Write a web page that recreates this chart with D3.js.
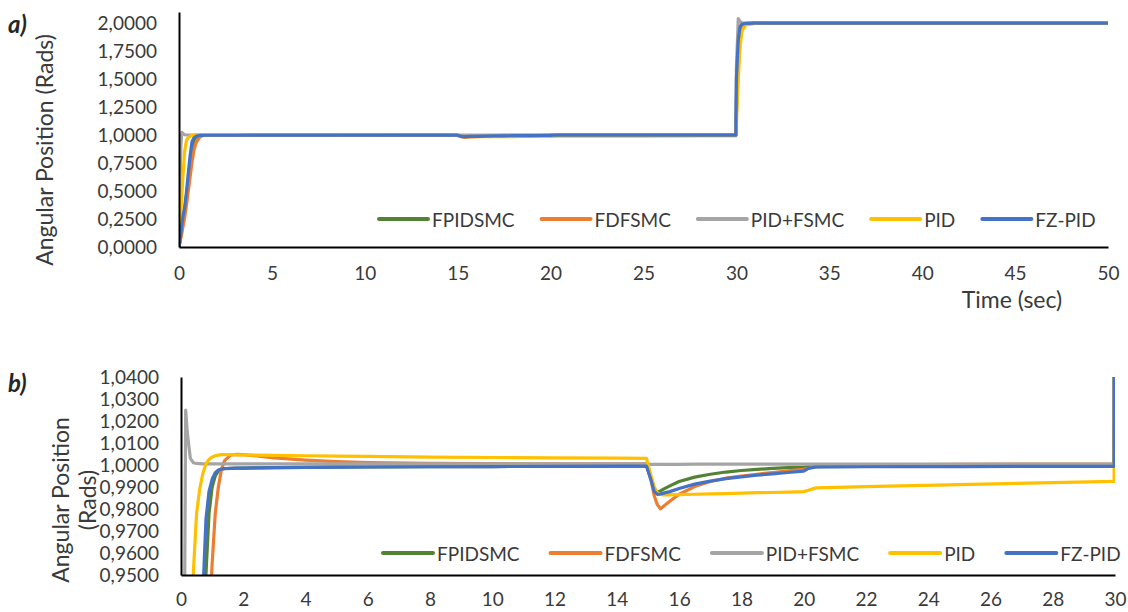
<!DOCTYPE html>
<html>
<head>
<meta charset="utf-8">
<script src="https://cdn.jsdelivr.net/npm/d3@7"></script>
<style>
  body { margin: 0; background: #fff; }
  svg { display: block; font-family: Lato, "Open Sans", sans-serif; }
</style>
</head>
<body>
<div id="my_dataviz"></div>
<script>
// time samples (sec), shared by every series
const time = [0, 0.1, 0.15, 0.2, 0.3, 0.4, 0.5, 0.6, 0.7, 0.8, 0.9, 1.0, 1.1, 1.2, 1.3, 1.4, 1.6, 1.8, 2,
  2.5, 3, 4, 5, 6, 8, 10, 12, 14, 14.95, 15.1, 15.2, 15.3, 15.4, 15.5, 15.7, 16, 16.5, 17, 17.5, 18,
  18.5, 19, 19.5, 20, 20.15, 20.4, 22, 25, 28, 29.97, 30, 30.1, 30.2, 30.3, 30.5, 31, 32, 35, 40, 45, 50];

const seriesNames = ["FPIDSMC", "FDFSMC", "PID+FSMC", "PID", "FZ-PID"];
const seriesColors = ["#548235", "#ED7D31", "#A5A5A5", "#FFC000", "#4472C4"];

const fpidsmc = [0, 0.1, 0.16, 0.23, 0.32, 0.45, 0.6, 0.76, 0.88, 0.95, 0.978, 0.99, 0.995, 0.9972, 0.998, 0.9983, 0.9985, 0.9986, 0.9986,
  0.9987, 0.9988, 0.9989, 0.999, 0.9991, 0.9992, 0.9993, 0.9994, 0.9995, 0.9996, 0.994, 0.989, 0.9876, 0.9882, 0.989, 0.9905, 0.9925, 0.9945, 0.9958, 0.9968, 0.9975,
  0.998, 0.9985, 0.9988, 0.999, 0.9992, 0.9993, 0.9994, 0.9995, 0.9995, 0.9995, 1.3, 1.75, 1.94, 1.985, 1.997, 2.0, 2.0, 2.0, 2.0, 2.0, 2.0];

const fdfsmc = [0, 0.08, 0.12, 0.17, 0.26, 0.37, 0.5, 0.63, 0.76, 0.86, 0.925, 0.955, 0.978, 0.99, 0.998, 1.002, 1.0046, 1.0048, 1.0047,
  1.004, 1.0032, 1.0022, 1.0015, 1.0011, 1.0008, 1.0006, 1.0005, 1.0005, 1.0005, 0.993, 0.986, 0.982, 0.9801, 0.9812, 0.9835, 0.9867, 0.9902, 0.9925, 0.994, 0.995,
  0.9958, 0.9966, 0.9973, 0.998, 0.9985, 0.9993, 0.9999, 1.0003, 1.0004, 1.0004, 1.2, 1.6, 1.85, 1.95, 1.99, 2.0, 2.0, 2.0, 2.0, 2.0, 2.0];

const pidFsmc = [0, 0.9, 1.025, 1.015, 1.003, 1.0010, 1.0007, 1.0006, 1.0005, 1.0005, 1.0005, 1.0005, 1.0005, 1.0005, 1.0005, 1.0005, 1.0005, 1.0005, 1.0005,
  1.0005, 1.0005, 1.0005, 1.0005, 1.0005, 1.0005, 1.0005, 1.0005, 1.0005, 1.0005, 1.0003, 1.0003, 1.0003, 1.0003, 1.0003, 1.0003, 1.0003, 1.0004, 1.0004, 1.0004, 1.0004,
  1.0004, 1.0004, 1.0004, 1.0004, 1.0004, 1.0004, 1.0004, 1.0004, 1.0004, 1.0004, 1.6, 2.042, 2.015, 2.003, 2.001, 2.0, 2.0, 2.0, 2.0, 2.0, 2.0];

const pid = [0, 0.3, 0.45, 0.6, 0.85, 0.952, 0.978, 0.989, 0.996, 1.0005, 1.0025, 1.0036, 1.0042, 1.0045, 1.0047, 1.0047, 1.0047, 1.0046, 1.0046,
  1.0045, 1.0044, 1.0042, 1.004, 1.0039, 1.0036, 1.0034, 1.0032, 1.0031, 1.003, 0.995, 0.99, 0.9875, 0.9866, 0.9864, 0.9864, 0.9865, 0.9867, 0.9869, 0.987, 0.9872,
  0.9874, 0.9875, 0.9877, 0.9879, 0.9885, 0.9896, 0.9902, 0.9911, 0.992, 0.9926, 1.1, 1.5, 1.8, 1.93, 1.985, 1.998, 2.0, 2.0, 2.0, 2.0, 2.0];

const fzPid = [0, 0.12, 0.2, 0.26, 0.35, 0.49, 0.66, 0.82, 0.94, 0.975, 0.988, 0.9935, 0.9965, 0.9977, 0.9982, 0.9984, 0.9985, 0.9986, 0.9986,
  0.9987, 0.9988, 0.9989, 0.999, 0.9991, 0.9992, 0.9993, 0.9994, 0.9995, 0.9995, 0.993, 0.988, 0.9866, 0.9868, 0.9872, 0.9879, 0.9893, 0.9913, 0.9927, 0.9938, 0.9946,
  0.9954, 0.996, 0.9966, 0.9972, 0.9985, 0.9991, 0.9992, 0.9993, 0.9994, 0.9994, 1.5, 1.85, 1.97, 1.99, 1.998, 2.0, 2.0, 2.0, 2.0, 2.0, 2.0];

const seriesValues = [fpidsmc, fdfsmc, pidFsmc, pid, fzPid];

// axis ticks
const topXTicks = [0, 5, 10, 15, 20, 25, 30, 35, 40, 45, 50];
const topYTicks = [0, 0.25, 0.5, 0.75, 1.0, 1.25, 1.5, 1.75, 2.0];
const botXTicks = [0, 2, 4, 6, 8, 10, 12, 14, 16, 18, 20, 22, 24, 26, 28, 30];
const botYTicks = [0.95, 0.96, 0.97, 0.98, 0.99, 1.0, 1.01, 1.02, 1.03, 1.04];

const W = 1128, H = 612;
const textColor = "#3a3a3a";

const svg = d3.select("#my_dataviz")
  .append("svg")
  .attr("width", W)
  .attr("height", H);

const commaFmt = v => d3.format(".4f")(v).replace(".", ",");

// draws one panel
function panel(opts) {
  const x = d3.scaleLinear().domain(opts.xDomain).range([opts.left, opts.right]);
  const y = d3.scaleLinear().domain(opts.yDomain).range([opts.bottom, opts.top]);

  svg.append("clipPath").attr("id", opts.id)
    .append("rect")
    .attr("x", opts.left).attr("y", opts.top)
    .attr("width", opts.right - opts.left)
    .attr("height", opts.bottom - opts.top);

  const line = d3.line()
    .x(d => x(d[0]))
    .y(d => y(d[1]));

  const g = svg.append("g").attr("clip-path", "url(#" + opts.id + ")");
  seriesValues.forEach(function(vals, i) {
    const pts = time.map((t, k) => [t, vals[k]]);
    g.append("path")
      .attr("d", line(pts))
      .style("fill", "none")
      .style("stroke", seriesColors[i])
      .style("stroke-width", 3.2)
      .style("stroke-linejoin", "round");
  });

  // axes (Excel style: no tick marks)
  const yAxis = svg.append("g")
    .attr("transform", "translate(" + opts.left + ",0)")
    .call(d3.axisLeft(y).tickValues(opts.yTicks).tickSize(0).tickPadding(22).tickFormat(commaFmt));
  yAxis.select(".domain").attr("stroke", "#000").attr("stroke-width", 2);
  yAxis.selectAll("text").attr("fill", textColor).style("font-size", "19px")
    .style("font-family", "Lato, sans-serif");

  const xAxis = svg.append("g")
    .attr("transform", "translate(0," + opts.bottom + ")")
    .call(d3.axisBottom(x).tickValues(opts.xTicks).tickSize(0).tickPadding(opts.xPad));
  xAxis.select(".domain").attr("stroke", "#000").attr("stroke-width", 2);
  xAxis.selectAll("text").attr("fill", textColor).style("font-size", "19px")
    .style("font-family", "Lato, sans-serif");

  // legend, laid out left to right from measured text widths
  const legend = svg.append("g").attr("transform", "translate(0," + opts.legendY + ")");
  let lx = opts.legendX;
  seriesNames.forEach(function(name, i) {
    legend.append("line")
      .attr("x1", lx).attr("x2", lx + opts.swatch)
      .attr("y1", 0).attr("y2", 0)
      .style("stroke", seriesColors[i])
      .style("stroke-width", 4)
      .style("stroke-linecap", "round");
    const txt = legend.append("text")
      .attr("x", lx + opts.swatch + 4)
      .attr("y", 0)
      .attr("dominant-baseline", "central")
      .attr("fill", textColor)
      .style("font-size", "19px")
      .text(name);
    lx += opts.swatch + 4 + txt.node().getComputedTextLength() + opts.legendGap;
  });
}

panel({
  id: "clipTop",
  xDomain: [0, 50], yDomain: [0, 2.1],
  left: 179, right: 1108, top: 12, bottom: 247,
  xTicks: topXTicks, yTicks: topYTicks, xPad: 20,
  legendX: 379, legendY: 219, swatch: 49, legendGap: 27
});

panel({
  id: "clipBot",
  xDomain: [0, 30], yDomain: [0.95, 1.04],
  left: 181, right: 1115, top: 377, bottom: 575,
  xTicks: botXTicks, yTicks: botYTicks, xPad: 18,
  legendX: 383, legendY: 553, swatch: 50, legendGap: 31
});

// titles
svg.append("text")
  .attr("transform", "translate(53,150) rotate(-90)")
  .attr("text-anchor", "middle")
  .attr("fill", textColor)
  .style("font-size", "23px")
  .text("Angular Position (Rads)");

const botTitle = svg.append("text")
  .attr("transform", "translate(69,500) rotate(-90)")
  .attr("text-anchor", "middle")
  .attr("fill", textColor)
  .style("font-size", "23px");
botTitle.append("tspan").attr("x", 0).attr("dy", 0).text("Angular Position");
botTitle.append("tspan").attr("x", 0).attr("dy", 27).text("(Rads)");

svg.append("text")
  .attr("x", 1012).attr("y", 308)
  .attr("text-anchor", "middle")
  .attr("fill", textColor)
  .style("font-size", "23px")
  .text("Time (sec)");

svg.append("text")
  .attr("x", 8).attr("y", 33)
  .attr("fill", "#262626")
  .style("font-size", "24px")
  .style("font-weight", "bold")
  .style("font-style", "italic")
  .text("a)");

svg.append("text")
  .attr("x", 8).attr("y", 392)
  .attr("fill", "#262626")
  .style("font-size", "24px")
  .style("font-weight", "bold")
  .style("font-style", "italic")
  .text("b)");
</script>
</body>
</html>
